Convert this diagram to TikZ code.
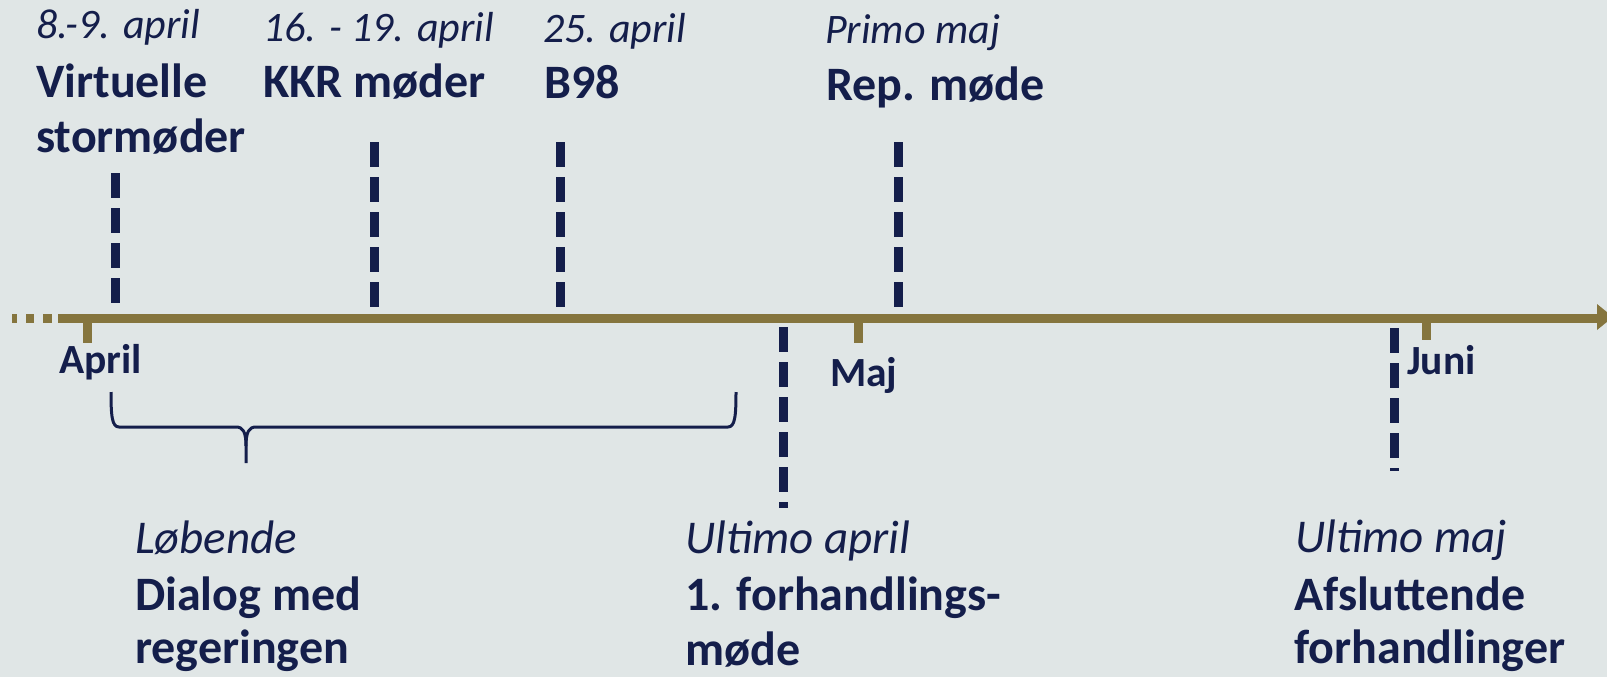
\documentclass[tikz,border=0pt]{standalone}
\usepackage{fontspec}
\setmainfont{Carlito}
\definecolor{bg}{RGB}{224,230,230}
\definecolor{navy}{RGB}{20,30,75}
\definecolor{olive}{RGB}{133,117,62}
\begin{document}
\begin{tikzpicture}[x=1pt,y=-1pt,
  lbl/.style={anchor=base west, inner sep=0pt, text=navy},
  datetop/.style={lbl, font=\fontsize{42}{48}\selectfont\itshape},
  datebot/.style={lbl, font=\fontsize{47}{54}\selectfont\itshape},
  title/.style={lbl, font=\fontsize{48}{54}\selectfont\bfseries},
  month/.style={lbl, font=\fontsize{41.5}{46}\selectfont\bfseries},
  evline/.style={draw=navy, line width=9pt, dash pattern=on 25pt off 10pt},
  axisline/.style={draw=olive, line width=9pt},
  bracepath/.style={draw=navy, line width=3pt, line join=round}
]
\fill[bg] (0,0) rectangle (1607,677);
\useasboundingbox (0,0) rectangle (1607,677);

% axis
\coordinate (a0) at (58,318);
\coordinate (a1) at (1598,318);
\draw[axisline] (12,318) -- (17,318);
\draw[axisline] (26,318) -- (34,318);
\draw[axisline] (43,318) -- (52,318);
\draw[axisline] (a0) -- (a1);
\fill[olive] (1597,304) -- (1613,317) -- (1597,330) -- cycle;

% ticks
\coordinate (tA) at (87,318);
\coordinate (tM) at (858,318);
\coordinate (tJ) at (1426,318);
\draw[axisline] (tA) -- ++(0,25);
\draw[axisline] (tM) -- ++(0,25);
\draw[axisline] (tJ) -- ++(0,22);

% month labels
\node[month] (mA) at (59,373) {April};
\node[month] (mM) at (830,386) {Maj};
\node[month] (mJ) at (1407,374) {Juni};

% event lines above
\coordinate (e1t) at (115,173);  \coordinate (e1b) at (115,303);
\coordinate (e2t) at (374,142);  \coordinate (e2b) at (374,307);
\coordinate (e3t) at (560,142);  \coordinate (e3b) at (560,307);
\coordinate (e4t) at (898,142);  \coordinate (e4b) at (898,307);
\draw[evline] (e1t) -- (e1b);
\draw[evline] (e2t) -- (e2b);
\draw[evline] (e3t) -- (e3b);
\draw[evline] (e4t) -- (e4b);

% event lines below
\coordinate (e5t) at (783,327);  \coordinate (e5b) at (783,508);
\coordinate (e6t) at (1394,328); \coordinate (e6b) at (1394,471);
\draw[evline] (e5t) -- (e5b);
\draw[evline] (e6t) -- (e6b);

% top labels
\node[datetop] (d1) at (36,39) {8.-9. april};
\node[title] (t1a) at (36,97) {Virtuelle};
\node[title] (t1b) at (36,152) {stormøder};

\node[datetop] (d2) at (263,42) {16. - 19. april};
\node[title] (t2) at (263,97) {KKR møder};

\node[datetop] (d3) at (543,43) {25. april};
\node[title] (t3) at (544,99) {B98};

\node[datetop] (d4) at (825,44) {Primo maj};
\node[title] (t4) at (826,100) {Rep. møde};

% bottom labels
\node[datebot] (d5) at (135,553) {Løbende};
\node[title] (t5a) at (135,610) {Dialog med};
\node[title] (t5b) at (135,663) {regeringen};

\node[datebot] (d6) at (685,553) {Ultimo april};
\node[title] (t6a) at (685,610) {1. forhandlings-};
\node[title] (t6b) at (685,665) {møde};

\node[datebot] (d7) at (1295,552) {Ultimo maj};
\node[title] (t7a) at (1294,610) {Afsluttende};
\node[title] (t7b) at (1294,663) {forhandlinger};

% brace
\coordinate (bl) at (111,392);
\coordinate (br) at (736,392);
\coordinate (bt) at (246,463);
\draw[bracepath] (bl) .. controls (111,416) and (112,427) .. (119,427)
  -- (236,427) .. controls (243,427) and (246,432) .. (246,446) -- (bt);
\draw[bracepath] (br) .. controls (736,416) and (735,427) .. (728,427)
  -- (256,427) .. controls (249,427) and (246,432) .. (246,446);
\end{tikzpicture}
\end{document}
